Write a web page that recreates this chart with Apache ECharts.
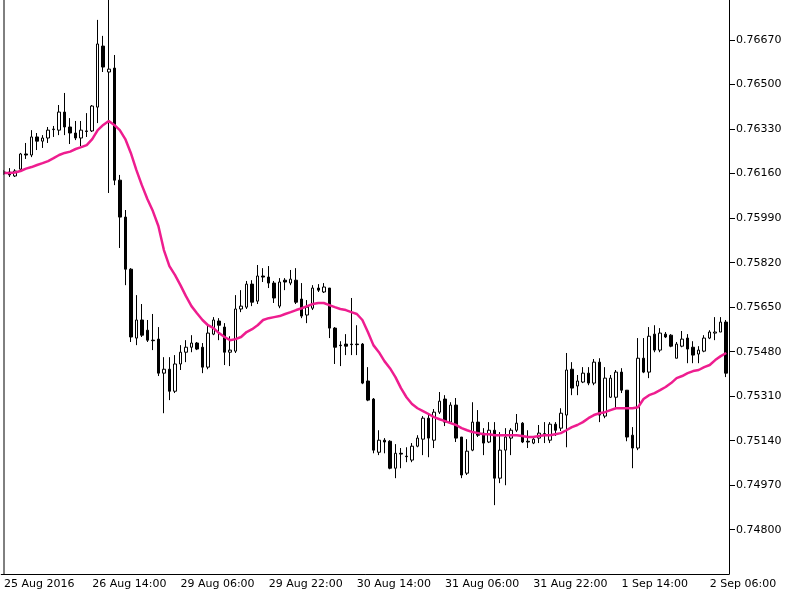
<!DOCTYPE html>
<html style="height: 100%">
<head>
	<meta charset="utf-8">
</head>
<body style="height: 100%; margin: 0; background: #ffffff">
<div id="container" style="width: 800px; height: 600px"></div>
<script type="text/javascript" src="https://cdn.jsdelivr.net/npm/echarts@6/dist/echarts.min.js"></script>
<script type="text/javascript">
    var dom = document.getElementById("container");
    var myChart = echarts.init(dom);

    // H1 bars, trading days only (weekend 27-28 Aug skipped)
    var days = ['25 Aug', '26 Aug', '29 Aug', '30 Aug', '31 Aug', '1 Sep', '2 Sep'];
    var firstHour = 22;
    var barCount = 132;

    var opens = [
        0.76166, 0.76166, 0.76151, 0.76177, 0.76235, 0.76231, 0.76300, 0.76284, 0.76296, 0.76328,
        0.76326, 0.76395, 0.76338, 0.76315, 0.76296, 0.76323, 0.76323, 0.76414, 0.76647, 0.76548,
        0.76563, 0.76135, 0.75994, 0.75795, 0.75532, 0.75601, 0.75562, 0.75524, 0.75528, 0.75398,
        0.75413, 0.75329, 0.75433, 0.75478, 0.75497, 0.75513, 0.75497, 0.75421, 0.75547, 0.75597,
        0.75574, 0.75478, 0.75482, 0.75643, 0.75650, 0.75738, 0.75673, 0.75769, 0.75765, 0.75742,
        0.75654, 0.75753, 0.75742, 0.75753, 0.75681, 0.75620, 0.75646, 0.75723, 0.75708, 0.75723,
        0.75570, 0.75505, 0.75509, 0.75509, 0.75509, 0.75509, 0.75368, 0.75299, 0.75096, 0.75142,
        0.75138, 0.75035, 0.75092, 0.75081, 0.75066, 0.75119, 0.75146, 0.75226, 0.75142, 0.75249,
        0.75299, 0.75211, 0.75276, 0.75154, 0.75016, 0.75104, 0.75211, 0.75169, 0.75135, 0.75180,
        0.74997, 0.75104, 0.75150, 0.75180, 0.75207, 0.75138, 0.75131, 0.75150, 0.75165, 0.75142,
        0.75203, 0.75188, 0.75238, 0.75413, 0.75349, 0.75364, 0.75398, 0.75360, 0.75440, 0.75234,
        0.75306, 0.75306, 0.75402, 0.75333, 0.75161, 0.75112, 0.75455, 0.75402, 0.75547, 0.75486,
        0.75547, 0.75543, 0.75455, 0.75501, 0.75532, 0.75497, 0.75471, 0.75482, 0.75532, 0.75551,
        0.75555, 0.75593
    ];
    var closes = [
        0.76164, 0.76155, 0.76170, 0.76235, 0.76231, 0.76300, 0.76284, 0.76296, 0.76326, 0.76330,
        0.76395, 0.76338, 0.76315, 0.76296, 0.76326, 0.76321, 0.76418, 0.76655, 0.76567, 0.76559,
        0.76135, 0.75994, 0.75795, 0.75536, 0.75601, 0.75543, 0.75524, 0.75522, 0.75398, 0.75413,
        0.75329, 0.75433, 0.75478, 0.75497, 0.75513, 0.75490, 0.75421, 0.75551, 0.75601, 0.75581,
        0.75478, 0.75486, 0.75643, 0.75654, 0.75738, 0.75669, 0.75769, 0.75765, 0.75742, 0.75685,
        0.75746, 0.75746, 0.75757, 0.75669, 0.75616, 0.75650, 0.75723, 0.75715, 0.75727, 0.75570,
        0.75497, 0.75503, 0.75501, 0.75507, 0.75507, 0.75360, 0.75295, 0.75104, 0.75142, 0.75135,
        0.75035, 0.75092, 0.75089, 0.75079, 0.75119, 0.75150, 0.75226, 0.75150, 0.75249, 0.75291,
        0.75211, 0.75276, 0.75150, 0.75009, 0.75100, 0.75211, 0.75161, 0.75131, 0.75180, 0.74997,
        0.75104, 0.75154, 0.75180, 0.75207, 0.75135, 0.75135, 0.75146, 0.75169, 0.75167, 0.75203,
        0.75180, 0.75245, 0.75410, 0.75341, 0.75368, 0.75398, 0.75360, 0.75440, 0.75238, 0.75379,
        0.75379, 0.75402, 0.75333, 0.75154, 0.75112, 0.75455, 0.75402, 0.75539, 0.75486, 0.75551,
        0.75536, 0.75501, 0.75509, 0.75528, 0.75490, 0.75467, 0.75486, 0.75532, 0.75555, 0.75555,
        0.75593, 0.75398
    ];
    var highs = [
        0.76174, 0.76181, 0.76177, 0.76239, 0.76277, 0.76326, 0.76315, 0.76307, 0.76338, 0.76342,
        0.76422, 0.76468, 0.76372, 0.76361, 0.76361, 0.76391, 0.76422, 0.76747, 0.76686, 0.76861,
        0.76613, 0.76155, 0.76021, 0.75799, 0.75696, 0.75662, 0.75601, 0.75624, 0.75574, 0.75459,
        0.75459, 0.75467, 0.75505, 0.75524, 0.75543, 0.75517, 0.75513, 0.75581, 0.75612, 0.75608,
        0.75589, 0.75539, 0.75696, 0.75715, 0.75750, 0.75753, 0.75811, 0.75799, 0.75807, 0.75750,
        0.75761, 0.75761, 0.75792, 0.75799, 0.75742, 0.75677, 0.75734, 0.75738, 0.75742, 0.75723,
        0.75574, 0.75520, 0.75547, 0.75685, 0.75581, 0.75513, 0.75421, 0.75303, 0.75180, 0.75150,
        0.75142, 0.75127, 0.75112, 0.75115, 0.75131, 0.75161, 0.75234, 0.75245, 0.75261, 0.75326,
        0.75314, 0.75287, 0.75303, 0.75154, 0.75146, 0.75287, 0.75257, 0.75188, 0.75211, 0.75211,
        0.75173, 0.75188, 0.75188, 0.75242, 0.75211, 0.75180, 0.75154, 0.75200, 0.75211, 0.75211,
        0.75211, 0.75264, 0.75475, 0.75440, 0.75391, 0.75421, 0.75421, 0.75452, 0.75455, 0.75421,
        0.75391, 0.75410, 0.75417, 0.75333, 0.75192, 0.75532, 0.75532, 0.75574, 0.75581, 0.75570,
        0.75555, 0.75547, 0.75517, 0.75559, 0.75547, 0.75520, 0.75501, 0.75543, 0.75562, 0.75612,
        0.75612, 0.75601
    ];
    var lows = [
        0.76155, 0.76147, 0.76147, 0.76174, 0.76216, 0.76223, 0.76250, 0.76258, 0.76277, 0.76300,
        0.76307, 0.76307, 0.76273, 0.76288, 0.76265, 0.76300, 0.76319, 0.76353, 0.76548, 0.76086,
        0.76116, 0.75876, 0.75734, 0.75517, 0.75505, 0.75536, 0.75517, 0.75486, 0.75387, 0.75245,
        0.75295, 0.75322, 0.75410, 0.75440, 0.75478, 0.75486, 0.75398, 0.75413, 0.75543, 0.75524,
        0.75429, 0.75425, 0.75475, 0.75631, 0.75643, 0.75654, 0.75662, 0.75746, 0.75723, 0.75666,
        0.75646, 0.75715, 0.75734, 0.75662, 0.75608, 0.75589, 0.75639, 0.75708, 0.75704, 0.75532,
        0.75433, 0.75425, 0.75467, 0.75467, 0.75467, 0.75356, 0.75291, 0.75092, 0.75085, 0.75092,
        0.75031, 0.74997, 0.75035, 0.75058, 0.75058, 0.75115, 0.75085, 0.75077, 0.75112, 0.75242,
        0.75196, 0.75207, 0.75135, 0.74997, 0.75009, 0.75100, 0.75154, 0.75085, 0.75131, 0.74894,
        0.74978, 0.74970, 0.75085, 0.75173, 0.75131, 0.75112, 0.75127, 0.75131, 0.75131, 0.75131,
        0.75158, 0.75177, 0.75115, 0.75314, 0.75314, 0.75360, 0.75352, 0.75352, 0.75211, 0.75226,
        0.75303, 0.75264, 0.75322, 0.75138, 0.75035, 0.75104, 0.75398, 0.75379, 0.75478, 0.75478,
        0.75532, 0.75497, 0.75455, 0.75497, 0.75436, 0.75436, 0.75436, 0.75478, 0.75528, 0.75524,
        0.75555, 0.75383
    ];
    // moving average line
    var maValues = [
        0.76162, 0.76162, 0.76164, 0.76170, 0.76179, 0.76185, 0.76193, 0.76200, 0.76208, 0.76219,
        0.76231, 0.76239, 0.76244, 0.76254, 0.76261, 0.76269, 0.76292, 0.76326, 0.76346, 0.76361,
        0.76346, 0.76326, 0.76292, 0.76239, 0.76174, 0.76116, 0.76063, 0.76017, 0.75960, 0.75868,
        0.75807, 0.75773, 0.75734, 0.75692, 0.75654, 0.75627, 0.75601, 0.75581, 0.75570, 0.75551,
        0.75536, 0.75524, 0.75528, 0.75536, 0.75555, 0.75566, 0.75581, 0.75601, 0.75608, 0.75612,
        0.75616, 0.75624, 0.75631, 0.75639, 0.75646, 0.75654, 0.75662, 0.75666, 0.75666, 0.75658,
        0.75650, 0.75643, 0.75639, 0.75631, 0.75624, 0.75601, 0.75555, 0.75505, 0.75478, 0.75444,
        0.75417, 0.75383, 0.75341, 0.75306, 0.75280, 0.75264, 0.75253, 0.75242, 0.75230, 0.75222,
        0.75215, 0.75207, 0.75200, 0.75188, 0.75180, 0.75173, 0.75169, 0.75165, 0.75165, 0.75161,
        0.75161, 0.75161, 0.75161, 0.75161, 0.75158, 0.75154, 0.75154, 0.75158, 0.75161, 0.75161,
        0.75165, 0.75169, 0.75180, 0.75192, 0.75200, 0.75211, 0.75226, 0.75238, 0.75245, 0.75249,
        0.75257, 0.75264, 0.75264, 0.75264, 0.75264, 0.75268, 0.75299, 0.75314, 0.75322, 0.75333,
        0.75345, 0.75360, 0.75379, 0.75387, 0.75398, 0.75406, 0.75410, 0.75421, 0.75429, 0.75448,
        0.75463, 0.75475
    ];
    var priceTicks = [0.7480, 0.7497, 0.7514, 0.7531, 0.7548, 0.7565, 0.7582, 0.7599, 0.7616, 0.7633, 0.7650, 0.7667];

    var categories = [];
    var d = 0, h = firstHour;
    for (var i = 0; i < barCount; i++) {
        var hh = (h < 10 ? '0' : '') + h + ':00';
        categories.push(i === 0 ? days[0] + ' 2016' : days[d] + ' ' + hh);
        h++;
        if (h === 24) { h = 0; d++; }
    }

    var candles = [];
    for (var j = 0; j < opens.length; j++) {
        candles.push([opens[j], closes[j], lows[j], highs[j]]);
    }

    function everyLabel(index) {
        return index % 16 === 0;
    }

    var option = {
        animation: false,
        backgroundColor: '#ffffff',
        textStyle: { fontFamily: 'DejaVu Sans' },
        grid: { left: 1.25, right: 71, top: 0, bottom: 26, outerBoundsMode: 'none' },
        graphic: [{
            type: 'rect',
            shape: { x: 0, y: 0, width: 3.5, height: 574 },
            style: { fill: '#ffffff' },
            z: 100
        }, {
            type: 'line',
            shape: { x1: 4, y1: 0, x2: 4, y2: 574 },
            style: { stroke: '#000000', lineWidth: 1 },
            z: 101
        }],
        xAxis: {
            type: 'category',
            data: categories,
            boundaryGap: true,
            axisLine: { lineStyle: { color: '#000000', width: 1 } },
            axisTick: { alignWithLabel: true, length: 4, interval: everyLabel, lineStyle: { color: '#000000' } },
            axisLabel: {
                interval: everyLabel,
                align: 'left',
                margin: 5,
                color: '#000000',
                fontSize: 11,
                fontFamily: 'DejaVu Sans'
            },
            splitLine: { show: false }
        },
        yAxis: {
            type: 'value',
            position: 'right',
            min: 0.74631,
            max: 0.76823,
            axisLine: { show: true, lineStyle: { color: '#000000', width: 1 } },
            axisTick: { show: true, length: 6, customValues: priceTicks, lineStyle: { color: '#000000' } },
            axisLabel: {
                customValues: priceTicks,
                margin: 7,
                color: '#000000',
                fontSize: 11,
                fontFamily: 'DejaVu Sans',
                formatter: function (v) { return v.toFixed(5); }
            },
            splitLine: { show: false }
        },
        series: [{
            type: 'candlestick',
            data: candles,
            barWidth: 3,
            clip: true,
            itemStyle: {
                color: '#ffffff',
                color0: '#000000',
                borderColor: '#000000',
                borderColor0: '#000000',
                borderWidth: 1
            }
        }, {
            type: 'line',
            data: maValues,
            symbol: 'none',
            silent: true,
            z: 3,
            lineStyle: { color: '#ee1d8f', width: 2.5 }
        }]
    };

    myChart.setOption(option, true);
</script>
</body>
</html>
